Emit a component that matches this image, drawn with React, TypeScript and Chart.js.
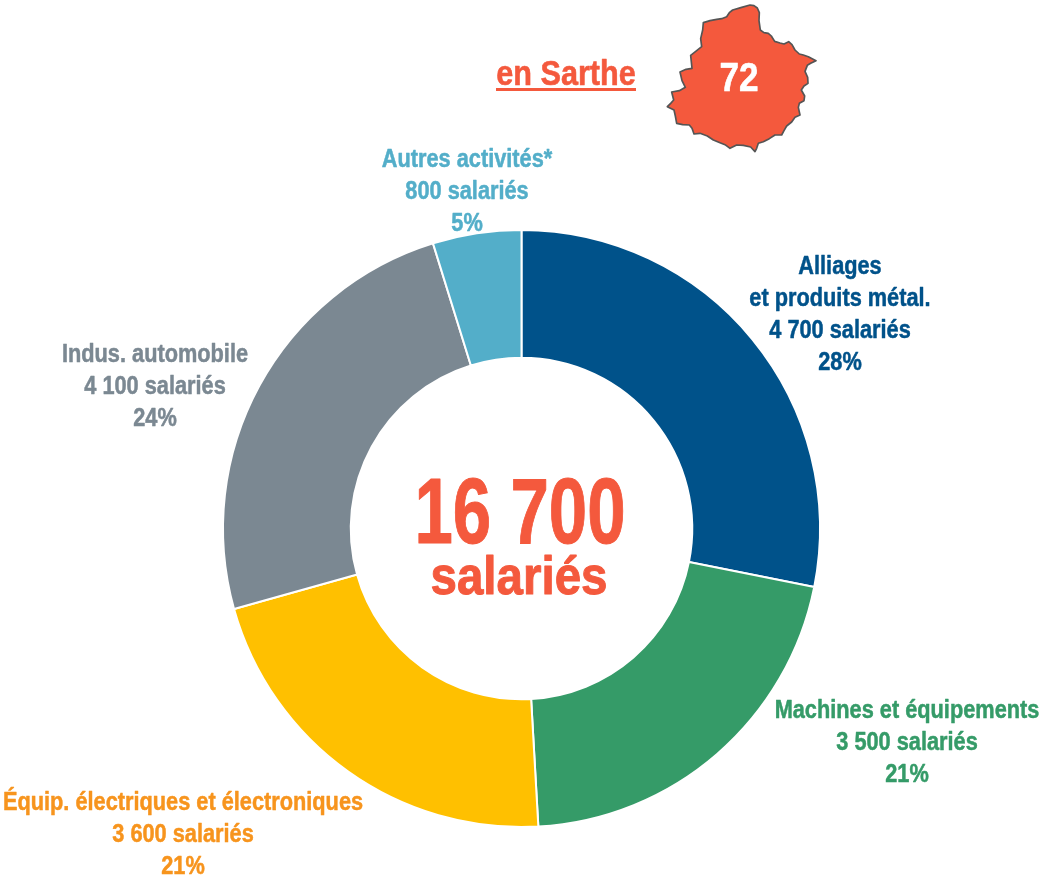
import React, { useEffect, useRef } from "react";
import { Chart, registerables } from "chart.js";

Chart.register(...registerables);

const categories = ["Alliages et produits métal.", "Machines et équipements", "Équip. électriques et électroniques", "Indus. automobile", "Autres activités*"];
const employees = [4700, 3500, 3600, 4100, 800];
const sliceColors = ["#00528A", "#359B68", "#FFC000", "#7B8892", "#53AEC9"];
const labelLines = [
  ["Alliages", "et produits métal.", "4 700 salariés", "28%"],
  ["Machines et équipements", "3 500 salariés", "21%"],
  ["Équip. électriques et électroniques", "3 600 salariés", "21%"],
  ["Indus. automobile", "4 100 salariés", "24%"],
  ["Autres activités*", "800 salariés", "5%"],
];
const labelColors = ["#00528A", "#359B68", "#F7941D", "#7B8892", "#53AEC9"];
const labelCentersX = [840, 907, 183, 155, 467];
const labelFirstY = [267, 711, 803, 355, 160];
const RED = "#F4593D";
const FONT = '"Liberation Sans", Arial, sans-serif';
const LABEL_SCALE = 0.87;

const mapPath = "M810,15 L822,17 L832,24 L838,38 L837,62 L841,90 L852,98 L865,100 L874,108 L884,124 L900,129 L912,132 L926,125 L936,134 L945,150 L958,162 L970,165 L985,170 L1008,182 L992,190 L982,196 L975,214 L983,232 L984,250 L972,258 L964,270 L974,288 L972,302 L958,310 L955,322 L960,345 L945,352 L935,366 L920,378 L912,392 L905,405 L885,405 L868,416 L850,425 L835,430 L830,445 L825,455 L812,441 L790,436 L770,435 L750,445 L735,434 L720,428 L700,420 L682,408 L660,400 L642,402 L636,385 L628,375 L608,374 L590,370 L586,348 L582,330 L562,320 L572,310 L581,300 L575,276 L598,272 L616,262 L606,242 L600,216 L618,208 L636,205 L632,166 L650,152 L665,140 L662,116 L668,90 L670,68 L690,62 L710,58 L725,56 L740,50 L748,38 L758,30 L785,22 Z";

function text(ctx: CanvasRenderingContext2D, s: string, cx: number, y: number, size: number, sx: number, color: string, weight = 0.5) {
  ctx.save();
  ctx.translate(cx, y);
  ctx.scale(sx, 1);
  ctx.font = `bold ${size}px ${FONT}`;
  ctx.fillStyle = color;
  ctx.strokeStyle = color;
  ctx.lineWidth = weight;
  ctx.lineJoin = "round";
  ctx.textAlign = "center";
  ctx.textBaseline = "middle";
  ctx.fillText(s, 0, 0);
  ctx.strokeText(s, 0, 0);
  ctx.restore();
}

const textPlugin = {
  id: "texts",
  afterDraw(chart: any) {
    const ctx = chart.ctx as CanvasRenderingContext2D;
    labelLines.forEach((lines, i) => {
      lines.forEach((l, j) => text(ctx, l, labelCentersX[i], labelFirstY[i] + j * 32, 25, LABEL_SCALE, labelColors[i]));
    });
    text(ctx, "16 700", 520, 518, 92, 0.75, RED, 1);
    text(ctx, "salariés", 519, 579, 54, 0.88, RED, 1);
    text(ctx, "en Sarthe", 566, 75, 35, 0.875, RED, 0.6);
    ctx.fillStyle = RED;
    ctx.fillRect(496, 88, 140, 3);
    text(ctx, "72", 739, 80, 40, 0.88, "#FFFFFF", 0.6);
  },
};

export default function App() {
  const ref = useRef<HTMLCanvasElement>(null);
  useEffect(() => {
    const chart = new Chart(ref.current!, {
      type: "doughnut",
      data: {
        labels: categories,
        datasets: [{ data: employees, backgroundColor: sliceColors, borderColor: "#FFFFFF", borderWidth: 2 }],
      },
      options: {
        responsive: false,
        animation: false,
        cutout: "57.2%",
        layout: { padding: { left: 222, right: 229, top: 229, bottom: 47 } },
        plugins: { legend: { display: false }, tooltip: { enabled: false } },
      },
      plugins: [textPlugin],
    });
    return () => chart.destroy();
  }, []);
  return (
    <div style={{ position: "fixed", left: 0, top: 0, width: 1050, height: 875, background: "#fff" }}>
      <svg style={{ position: "absolute", left: 480, top: 0 }} width={350} height={160} viewBox="0 0 1050 480">
        <path d={mapPath} fill={RED} stroke="#555555" strokeWidth={5} strokeLinejoin="round" />
      </svg>
      <canvas ref={ref} width={1050} height={875} style={{ position: "absolute", left: 0, top: 0 }} />
    </div>
  );
}
